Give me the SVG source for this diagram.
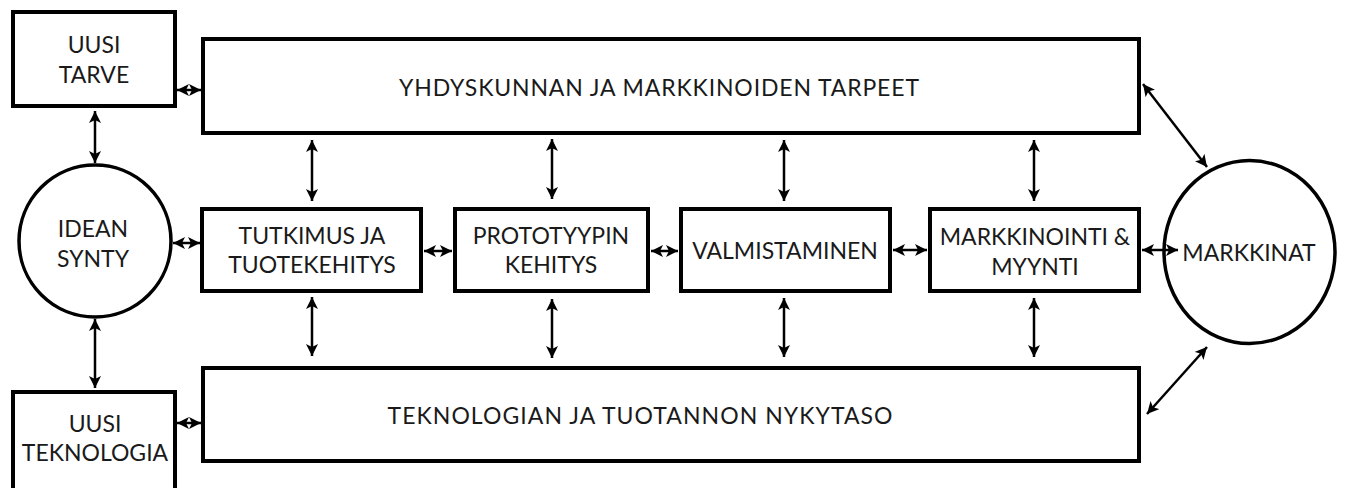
<svg xmlns="http://www.w3.org/2000/svg" width="1346" height="488" viewBox="0 0 1346 488">
<style>
.box{fill:#fff;stroke:#000;stroke-width:4}
.ell{fill:none;stroke:#000;stroke-width:3.5}
.t{font-family:Lato,"Open Sans","Liberation Sans",sans-serif;font-size:23px;fill:#1a1a1a;text-anchor:middle}
.c{stroke:#000;stroke-width:2.5;fill:none;marker-start:url(#ah);marker-end:url(#ah)}
</style>
<defs>
<marker id="ah" markerUnits="userSpaceOnUse" markerWidth="14" markerHeight="12" refX="12" refY="6" orient="auto-start-reverse" viewBox="0 0 14 12">
<path d="M0,0 L12,6 L0,12 L3,6 z" fill="#000"/>
</marker>
</defs>
<rect width="1346" height="488" fill="#fff"/>
<g id="uusi-tarve">
<rect class="box" x="13" y="12" width="162" height="94"/>
<text class="t" x="94" y="53">UUSI</text>
<text class="t" x="94" y="83">TARVE</text>
</g>
<g id="yhdyskunnan">
<rect class="box" x="203" y="39" width="936" height="94"/>
<text class="t" x="659" y="96" textLength="520" lengthAdjust="spacing">YHDYSKUNNAN JA MARKKINOIDEN TARPEET</text>
</g>
<g id="idean-synty">
<circle class="ell" cx="95" cy="241" r="76"/>
<text class="t" x="93" y="237">IDEAN</text>
<text class="t" x="93" y="267">SYNTY</text>
</g>
<g id="tutkimus">
<rect class="box" x="202" y="209" width="219" height="82"/>
<text class="t" x="312" y="244">TUTKIMUS JA</text>
<text class="t" x="312" y="273">TUOTEKEHITYS</text>
</g>
<g id="prototyypin">
<rect class="box" x="455" y="209" width="193" height="82"/>
<text class="t" x="551" y="244">PROTOTYYPIN</text>
<text class="t" x="551" y="273">KEHITYS</text>
</g>
<g id="valmistaminen">
<rect class="box" x="681" y="209" width="209" height="82"/>
<text class="t" x="785" y="259">VALMISTAMINEN</text>
</g>
<g id="markkinointi">
<rect class="box" x="930" y="209" width="209" height="82"/>
<text class="t" x="1035" y="245">MARKKINOINTI &amp;</text>
<text class="t" x="1035" y="275">MYYNTI</text>
</g>
<g id="markkinat">
<ellipse class="ell" cx="1249.5" cy="252" rx="85.5" ry="91.5"/>
<text class="t" x="1249" y="261">MARKKINAT</text>
</g>
<g id="teknologian">
<rect class="box" x="203" y="368" width="936" height="93"/>
<text class="t" x="640" y="424" textLength="505" lengthAdjust="spacing">TEKNOLOGIAN JA TUOTANNON NYKYTASO</text>
</g>
<g id="uusi-teknologia">
<rect class="box" x="13" y="392" width="162" height="100"/>
<text class="t" x="95" y="432">UUSI</text>
<text class="t" x="95" y="461">TEKNOLOGIA</text>
</g>
<g id="connectors">
<line class="c" x1="177" y1="90" x2="201" y2="90"/>
<line class="c" x1="95" y1="111" x2="95" y2="163"/>
<line class="c" x1="95" y1="319" x2="95" y2="388"/>
<line class="c" x1="173" y1="243" x2="200" y2="243"/>
<line class="c" x1="177" y1="423" x2="201" y2="423"/>
<line class="c" x1="424" y1="251" x2="452" y2="251"/>
<line class="c" x1="651" y1="251" x2="678" y2="251"/>
<line class="c" x1="893" y1="250" x2="927" y2="250"/>
<line class="c" x1="1142" y1="250" x2="1178" y2="250"/>
<line class="c" x1="312" y1="140" x2="312" y2="201"/>
<line class="c" x1="552" y1="139" x2="552" y2="199"/>
<line class="c" x1="784" y1="140" x2="784" y2="201"/>
<line class="c" x1="1034" y1="140" x2="1034" y2="201"/>
<line class="c" x1="312" y1="297" x2="312" y2="356"/>
<line class="c" x1="552" y1="299" x2="552" y2="358"/>
<line class="c" x1="784" y1="298" x2="784" y2="357"/>
<line class="c" x1="1034" y1="298" x2="1034" y2="357"/>
<line class="c" x1="1143" y1="84" x2="1207" y2="167"/>
<line class="c" x1="1147" y1="414" x2="1207" y2="347"/>
</g>
</svg>
